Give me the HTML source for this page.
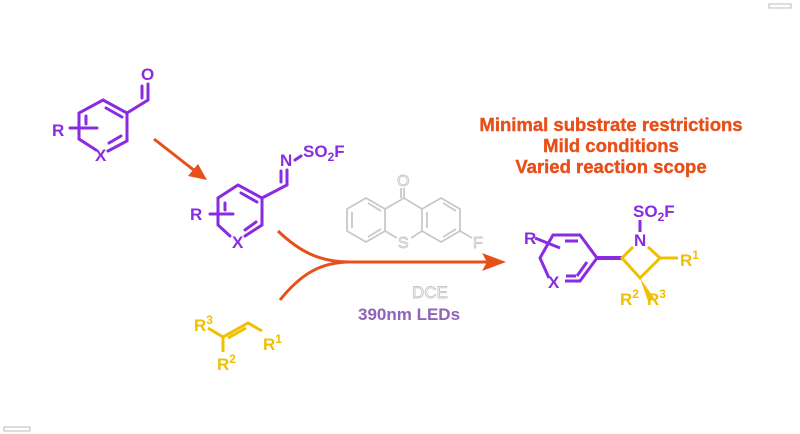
<!DOCTYPE html>
<html><head><meta charset="utf-8"><style>
html,body{margin:0;padding:0;background:#fff;}
svg{display:block;font-family:"Liberation Sans",sans-serif;font-weight:bold;}
</style></head><body>
<svg width="800" height="434" viewBox="0 0 800 434" xmlns="http://www.w3.org/2000/svg">
<rect x="769" y="4" width="22" height="4" fill="none" stroke="#bbb" stroke-width="1"/>
<rect x="4" y="427" width="26" height="4" fill="none" stroke="#bbb" stroke-width="1"/>

<!-- compound 1 -->
<g stroke="#8a2be2" stroke-width="3" fill="none" stroke-linecap="round">
<polyline points="96,150 79,139 79,113 103,100 127,113 127,141 108,151"/>
<line x1="106" y1="108" x2="122" y2="117"/>
<line x1="109" y1="143" x2="121" y2="136"/>
<line x1="70" y1="128" x2="97" y2="128"/>
<line x1="86" y1="116" x2="86" y2="124"/>
<polyline points="127,113 148,100 148,84"/>
<line x1="142" y1="98" x2="142" y2="86"/>
</g>
<g fill="#8a2be2" font-size="17">
<text x="52" y="136">R</text><text x="95" y="161">X</text><text x="141" y="80">O</text>
</g>

<!-- arrow 1 -->
<line x1="154" y1="139" x2="195" y2="171" stroke="#e8501a" stroke-width="3"/>
<polygon points="207,180 188,176 198,164" fill="#e8501a"/>

<!-- compound 2 -->
<g stroke="#8a2be2" stroke-width="3" fill="none" stroke-linecap="round">
<polyline points="230,236 218,225 218,198 238,185 262,198 262,225 245,236"/>
<line x1="241" y1="193" x2="257" y2="202"/>
<line x1="245" y1="230" x2="256" y2="222"/>
<line x1="210" y1="214" x2="233" y2="214"/>
<line x1="225" y1="203" x2="225" y2="210"/>
<polyline points="262,198 287,185 287,170"/>
<line x1="281" y1="182" x2="281" y2="171"/>
<line x1="295" y1="160" x2="301" y2="156"/>
</g>
<g fill="#8a2be2" font-size="17">
<text x="190" y="220">R</text><text x="232" y="248">X</text><text x="280" y="166">N</text>
<text x="303" y="157">SO<tspan font-size="12" dy="4">2</tspan><tspan dy="-4">F</tspan></text>
</g>

<!-- thioxanthone -->
<g stroke="#c8c8c8" stroke-width="1.8" fill="none">
<polygon points="366,198 385,209 385,231 366,242 347,231 347,209"/>
<polygon points="441,198 460,209 460,231 441,242 422,231 422,209"/>
<polyline points="385,209 404,198 422,209"/>
<polyline points="385,231 397,238"/><polyline points="411,238 422,231"/>
<line x1="404" y1="198" x2="404" y2="188"/><line x1="401" y1="198" x2="401" y2="188"/>
<line x1="352" y1="212" x2="352" y2="228"/><line x1="368" y1="203" x2="381" y2="211"/><line x1="368" y1="237" x2="381" y2="229"/>
<line x1="427" y1="212" x2="427" y2="228"/><line x1="443" y1="203" x2="456" y2="211"/><line x1="443" y1="237" x2="456" y2="229"/>
<line x1="460" y1="231" x2="472" y2="238"/>
</g>
<g fill="#fff" stroke="#c8c8c8" stroke-width="0.9" font-size="16" font-weight="normal">
<text x="397" y="186">O</text><text x="398" y="248">S</text><text x="473" y="248">F</text>
<text x="412" y="298" font-size="17">DCE</text>
</g>
<text x="358" y="320" fill="#8e63b8" font-size="17">390nm LEDs</text>

<!-- merging arrow -->
<g stroke="#e8501a" stroke-width="3" fill="none">
<path d="M278,231 C300,252 320,262 350,262 L492,262"/>
<path d="M280,300 C300,275 320,262 350,262"/>
</g>
<polygon points="506,262 482,253 487,262 482,271" fill="#e8501a"/>

<!-- alkene -->
<g stroke="#f0c000" stroke-width="3" fill="none">
<polyline points="208,328 223,337 248,323 262,331"/>
<line x1="228" y1="338" x2="246" y2="328"/>
<line x1="223" y1="337" x2="223" y2="352"/>
</g>
<g fill="#f0c000" font-size="17">
<text x="194" y="331">R<tspan font-size="12" dy="-7">3</tspan></text>
<text x="263" y="350">R<tspan font-size="12" dy="-7">1</tspan></text>
<text x="217" y="370">R<tspan font-size="12" dy="-7">2</tspan></text>
</g>

<!-- product -->
<g stroke="#8a2be2" stroke-width="3" fill="none">
<polyline points="549,278 540,258 553,235 580,235 597,258 580,281 565,281"/>
<line x1="565" y1="241" x2="578" y2="241"/>
<line x1="587" y1="262" x2="577" y2="276"/>
<line x1="566" y1="276" x2="576" y2="276"/>
<line x1="535" y1="238" x2="560" y2="248"/>
<line x1="640" y1="220" x2="640" y2="232"/>
</g>
<polygon points="597,256 622,256 622,260 597,260" fill="#8a2be2"/>
<g stroke="#f0c000" stroke-width="3" fill="none">
<polyline points="633,247 622,258 640,278 660,258 648,247"/>
<line x1="660" y1="258" x2="678" y2="258"/>
</g>
<polygon points="640,278 654,298 648,301" fill="#f0c000"/>
<g fill="#8a2be2" font-size="17">
<text x="524" y="244">R</text><text x="548" y="288">X</text><text x="634" y="246">N</text>
<text x="633" y="217">SO<tspan font-size="12" dy="4">2</tspan><tspan dy="-4">F</tspan></text>
</g>
<g fill="#f0c000" font-size="17">
<text x="680" y="266">R<tspan font-size="12" dy="-7">1</tspan></text>
<text x="620" y="305">R<tspan font-size="12" dy="-7">2</tspan></text>
<text x="647" y="305">R<tspan font-size="12" dy="-7">3</tspan></text>
</g>

<!-- claims -->
<g fill="#e8501a" font-size="18.5" text-anchor="middle" stroke="#e8501a" stroke-width="0.4">
<text x="611" y="131">Minimal substrate restrictions</text>
<text x="611" y="152">Mild conditions</text>
<text x="611" y="173">Varied reaction scope</text>
</g>
</svg>
</body></html>
